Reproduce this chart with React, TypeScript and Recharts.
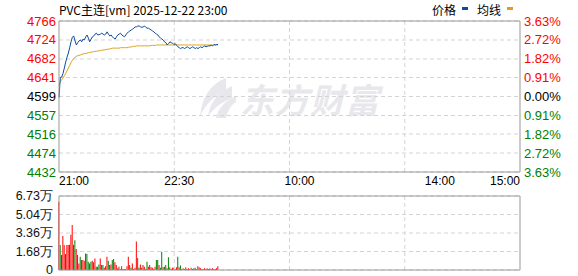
import React from 'react';
import {
  ComposedChart,
  Line,
  Bar,
  Cell,
  XAxis,
  YAxis,
  CartesianGrid,
  ReferenceLine
} from 'recharts';

// axis ticks and labels
const prevClose = 4599;
const priceTicks = [4432, 4474, 4516, 4557, 4599, 4641, 4682, 4724, 4766];
const pctTicks = [-3.63, -2.72, -1.82, -0.91, 0, 0.91, 1.82, 2.72, 3.63];
const timeTicks = [0, 90, 180, 285, 345];
const timeLabels = ['21:00', '22:30', '10:00', '14:00', '15:00'];
const volTicks = [0, 16825, 33650, 50475, 67300];
const volLabels = ['0', '1.68万', '3.36万', '5.04万', '6.73万'];
const quarterLines = [86.25, 172.5, 258.75];

// minute prices from 21:00
const price = [
  4597, 4641, 4642, 4650, 4662, 4675, 4686, 4695, 4707, 4720,
  4730, 4733, 4722, 4713, 4718, 4722, 4724, 4720, 4726, 4724,
  4731, 4735, 4728, 4720, 4726, 4731, 4733, 4737, 4739, 4735,
  4736, 4737, 4739, 4737, 4735, 4737, 4742, 4737, 4733, 4735,
  4731, 4728, 4726, 4731, 4735, 4737, 4739, 4735, 4733, 4731,
  4735, 4739, 4742, 4744, 4746, 4748, 4750, 4753, 4753, 4755,
  4755, 4753, 4752, 4753, 4755, 4752, 4750, 4750, 4748, 4746,
  4744, 4742, 4739, 4737, 4735, 4731, 4728, 4726, 4724, 4720,
  4718, 4713, 4716, 4720, 4718, 4717, 4714, 4716, 4712, 4709,
  4707, 4705, 4707, 4707, 4705, 4707, 4709, 4707, 4705, 4707,
  4709, 4707, 4705, 4707, 4705, 4707, 4709, 4707, 4709, 4711,
  4709, 4710, 4711, 4711, 4712, 4711, 4714, 4713, 4714, 4714
];

const avgPrice = [
  4625, 4632, 4636, 4640, 4645, 4650, 4656, 4662, 4668, 4674,
  4679, 4683, 4686, 4688, 4689, 4690, 4691, 4692, 4693, 4694,
  4694, 4695, 4696, 4696, 4697, 4698, 4698, 4699, 4699, 4700,
  4700, 4701, 4701, 4702, 4702, 4703, 4703, 4704, 4704, 4705,
  4706, 4706, 4706, 4706, 4706, 4706, 4707, 4707, 4707, 4707,
  4707, 4707, 4708, 4708, 4709, 4709, 4710, 4710, 4711, 4711,
  4711, 4711, 4711, 4711, 4711, 4711, 4711, 4711, 4711, 4712,
  4712, 4712, 4712, 4713, 4713, 4713, 4713, 4713, 4713, 4713,
  4713, 4713, 4713, 4713, 4713, 4713, 4713, 4713, 4713, 4713,
  4713, 4713, 4713, 4713, 4713, 4713, 4713, 4713, 4713, 4713,
  4713, 4713, 4713, 4713, 4713, 4713, 4713, 4713, 4713, 4713,
  4713, 4713, 4713, 4713, 4713, 4713, 4713, 4713, 4713, 4713
];

// volume (lots) and tick direction, 1 = up, -1 = down
const volume = [
  62000, 22700, 13600, 31000, 22700, 14500, 22700, 22700, 23000, 32000,
  41000, 23000, 27000, 19000, 13600, 6000, 12000, 9000, 9000, 8500,
  15000, 14500, 7500, 6000, 7500, 8500, 7000, 10500, 3000, 3000,
  5000, 10500, 4500, 4500, 2000, 3500, 12000, 8500, 4500, 5000,
  9000, 10000, 7000, 4500, 1500, 3000, 1000, 3500, 1000, 1000,
  600, 3500, 12000, 4500, 2000, 6000, 1000, 2000, 26000, 11000,
  2000, 5000, 2000, 4500, 3000, 1000, 7500, 3000, 4500, 2500,
  2000, 1000, 3000, 9000, 9000, 4500, 2000, 16500, 2500, 3000,
  4500, 1500, 11500, 2500, 1000, 2000, 2000, 1000, 2500, 12000,
  2500, 4000, 1000, 1500, 1000, 2500, 1000, 1500, 1000, 2000,
  1000, 1500, 2000, 1000, 3500, 2500, 1500, 1000, 1000, 1500,
  1000, 1500, 1000, 1500, 1000, 1500, 1000, 1000, 1500, 3500
];

const direction = [
  1, -1, -1, 1, 1, 1, 1, 1, 1, 1,
  1, 1, -1, 1, 1, 1, -1, 1, 1, 1,
  1, -1, -1, 1, -1, 1, 1, 1, -1, -1,
  -1, 1, -1, -1, 1, 1, 1, -1, 1, 1,
  -1, -1, 1, 1, 1, 1, 1, 1, 1, -1,
  1, 1, 1, 1, -1, 1, 1, 1, 1, -1,
  -1, 1, -1, 1, 1, -1, -1, 1, -1, 1,
  1, -1, 1, -1, -1, 1, -1, -1, 1, -1,
  1, -1, -1, 1, 1, 1, 1, 1, 1, -1,
  1, -1, -1, 1, 1, 1, 1, 1, -1, 1,
  1, 1, -1, 1, 1, 1, 1, 1, 1, 1,
  1, 1, 1, 1, 1, 1, 1, 1, 1, 1
];

const priceData = price.map((p, i) => ({ t: i, price: p, avg: avgPrice[i] }));
const volData = volume.map((v, i) => ({ t: i, vol: v, dir: direction[i] }));

const UP = '#ff0000';
const DOWN = '#008000';
const BORDER = '#999999';
const GRID = '#d4d4d4';
const WATERMARK = '#e8e8ec';
const AXIS_FONT = "Arial, 'Liberation Sans', sans-serif";
const CJK_FONT = "'Noto Sans CJK SC', sans-serif";

const PriceTick = (props: any) => {
  const { x, y, payload } = props;
  const v = payload.value;
  const fill = v > prevClose ? UP : v < prevClose ? DOWN : '#000';
  return (
    <text x={x} y={y} dy={4.5} textAnchor="end" fill={fill} fontSize={13} fontFamily={AXIS_FONT}>
      {v}
    </text>
  );
};

const PctTick = (props: any) => {
  const { x, y, payload } = props;
  const v = payload.value;
  const fill = v > 0 ? UP : v < 0 ? DOWN : '#000';
  return (
    <text x={x} y={y} dy={4.5} textAnchor="start" fill={fill} fontSize={13} fontFamily={AXIS_FONT}>
      {Math.abs(v).toFixed(2) + '%'}
    </text>
  );
};

const TimeTick = (props: any) => {
  const { x, y, payload, index } = props;
  const anchor = index === 0 ? 'start' : index === timeTicks.length - 1 ? 'end' : 'middle';
  return (
    <text x={x} y={y} dy={13} textAnchor={anchor} fill="#000" fontSize={12} fontFamily={AXIS_FONT}>
      {timeLabels[timeTicks.indexOf(payload.value)]}
    </text>
  );
};

const VolTick = (props: any) => {
  const { x, y, payload } = props;
  const v = payload.value;
  return (
    <text x={x} y={y} dy={4} textAnchor="end" fill="#111" fontSize={12.5} fontFamily={AXIS_FONT}>
      {volLabels[volTicks.indexOf(v)]}
    </text>
  );
};

export default function App() {
  return (
    <div style={{ position: 'absolute', left: 0, top: 0, width: 578, height: 276, background: '#fff', overflow: 'hidden' }}>
      {/* watermark logo + name */}
      <svg style={{ position: 'absolute', left: 196, top: 76 }} width={44} height={44}>
        <path d="M30 2 C14 8 6 22 4 40 C10 28 18 20 30 14 Z" fill={WATERMARK} />
        <path d="M36 10 C22 16 14 26 12 40 C18 32 26 26 36 22 Z" fill={WATERMARK} />
        <path d="M40 20 C30 24 22 32 20 42 L30 42 C32 34 36 28 40 26 Z" fill={WATERMARK} />
      </svg>
      <div
        style={{
          position: 'absolute', left: 240, top: 74, fontSize: 34, fontWeight: 'bold',
          color: WATERMARK, fontFamily: CJK_FONT, fontStyle: 'italic', letterSpacing: 1
        }}
      >
        东方财富
      </div>

      {/* title */}
      <div style={{ position: 'absolute', left: 59, top: 1, fontSize: 12, fontFamily: CJK_FONT, color: '#000', whiteSpace: 'nowrap' }}>
        PVC主连[vm] 2025-12-22 23:00
      </div>

      {/* legend */}
      <div style={{ position: 'absolute', left: 432, top: 1, fontSize: 12, fontFamily: CJK_FONT, color: '#000' }}>价格</div>
      <div style={{ position: 'absolute', left: 462, top: 7, width: 6, height: 3, background: '#0a4d9c' }} />
      <div style={{ position: 'absolute', left: 477, top: 1, fontSize: 12, fontFamily: CJK_FONT, color: '#000' }}>均线</div>
      <div style={{ position: 'absolute', left: 507, top: 7, width: 6, height: 3, background: '#dca01c' }} />

      {/* price chart */}
      <div style={{ position: 'absolute', left: 0, top: 0 }}>
        <ComposedChart width={578} height={190} data={priceData} margin={{ top: 21, right: 0, bottom: 0, left: 0 }}>
          <CartesianGrid yAxisId="left" vertical={false} stroke={GRID} strokeDasharray="4 3" />
          <XAxis
            dataKey="t"
            type="number"
            domain={[0, 345]}
            ticks={timeTicks}
            height={18}
            tickSize={0}
            tickMargin={0}
            axisLine={{ stroke: BORDER }}
            tick={<TimeTick />}
            interval={0}
          />
          <YAxis
            yAxisId="left"
            domain={[4432, 4766]}
            ticks={priceTicks}
            width={59}
            tickSize={0}
            tickMargin={3}
            axisLine={{ stroke: BORDER }}
            tick={<PriceTick />}
            allowDataOverflow
            interval={0}
          />
          <YAxis
            yAxisId="right"
            orientation="right"
            type="number"
            domain={[-3.63, 3.63]}
            ticks={pctTicks}
            width={58}
            tickSize={0}
            tickMargin={4}
            axisLine={{ stroke: BORDER }}
            tick={<PctTick />}
            allowDataOverflow
            interval={0}
          />
          {quarterLines.map((q) => (
            <ReferenceLine key={q} yAxisId="left" x={q} stroke={GRID} strokeDasharray="4 3" />
          ))}
          <ReferenceLine yAxisId="left" y={4766} stroke={BORDER} />
          <Line
            yAxisId="left"
            type="linear"
            dataKey="avg"
            stroke="#dca01c"
            strokeWidth={1}
            dot={false}
            isAnimationActive={false}
          />
          <Line
            yAxisId="left"
            type="linear"
            dataKey="price"
            stroke="#0a4d9c"
            strokeWidth={1}
            dot={false}
            isAnimationActive={false}
          />
        </ComposedChart>
      </div>

      {/* volume chart */}
      <div style={{ position: 'absolute', left: 0, top: 182 }}>
        <ComposedChart width={578} height={94} data={volData} margin={{ top: 14, right: 0, bottom: 6, left: 0 }}>
          <CartesianGrid yAxisId="v" vertical={false} stroke={GRID} strokeDasharray="4 3" />
          <XAxis dataKey="t" type="number" domain={[0, 345]} hide />
          <YAxis
            yAxisId="v"
            domain={[0, 67300]}
            ticks={volTicks}
            width={59}
            tickSize={0}
            tickMargin={6}
            axisLine={{ stroke: BORDER }}
            tick={<VolTick />}
            allowDataOverflow
            interval={0}
          />
          <YAxis
            yAxisId="vr"
            orientation="right"
            domain={[0, 67300]}
            width={58}
            tick={false}
            tickSize={0}
            axisLine={{ stroke: BORDER }}
          />
          {quarterLines.map((q) => (
            <ReferenceLine key={q} yAxisId="v" x={q} stroke={GRID} strokeDasharray="4 3" />
          ))}
          <ReferenceLine yAxisId="v" y={67300} stroke={BORDER} />
          <ReferenceLine yAxisId="v" y={0} stroke={BORDER} />
          <Bar yAxisId="v" dataKey="vol" barSize={1} isAnimationActive={false}>
            {volData.map((d, i) => (
              <Cell key={`c-${i}`} fill={d.dir > 0 ? UP : DOWN} />
            ))}
          </Bar>
        </ComposedChart>
      </div>
    </div>
  );
}
